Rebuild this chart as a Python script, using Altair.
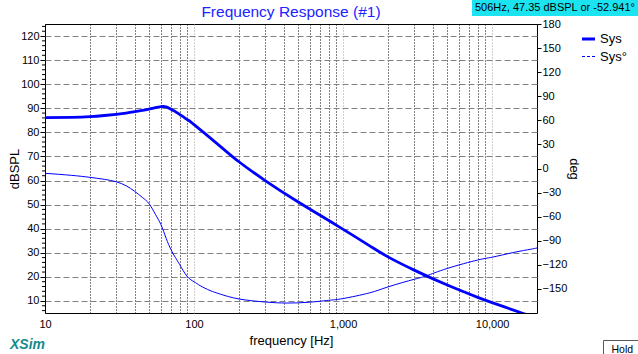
import altair as alt
import pandas as pd

# ---- data ----
mag_freq = [10, 15, 20, 25, 30, 35, 40, 45, 50, 55, 60, 65, 70, 75, 80, 90, 100, 150, 200,
            300, 500, 900, 1500, 2000, 3000, 5000, 8000, 10000, 15000, 17000]
mag_db = [86.1, 86.2, 86.5, 87.0, 87.5, 88.0, 88.6, 89.1, 89.7, 90.3, 90.7, 90.6, 89.6, 88.6,
          87.5, 85.3, 83.2, 74.2, 67.8, 60.0, 51.1, 41.5, 33.0, 28.3, 22.8, 16.6, 11.5, 9.3,
          5.5, 4.4]

ph_freq = [10, 15, 20, 25, 30, 35, 40, 45, 50, 55, 60, 65, 70, 75, 80, 90, 100, 110, 128, 150,
           200, 300, 420, 600, 820, 1000, 1500, 2000, 3000, 3650, 5000, 8000, 10000, 14000,
           18000, 20000]
ph_deg = [-6, -8.5, -11, -13.5, -16.5, -21.5, -28.5, -36, -44, -57, -70, -87, -101, -111,
          -119.5, -134.5, -141, -146, -152, -156.5, -162.5, -166.3, -167.6, -166.5, -164,
          -162, -155, -147.5, -138, -133.5, -124.5, -114, -110.5, -104.5, -100.7, -99]

db_ticks = [10, 20, 30, 40, 50, 60, 70, 80, 90, 100, 110, 120]
db_minor = [v for v in range(6, 125, 2) if v % 10 != 0]
deg_ticks = [-150, -120, -90, -60, -30, 0, 30, 60, 90, 120, 150, 180]
freq_grid = [10, 20, 30, 40, 50, 60, 70, 80, 90,
             100, 200, 300, 400, 500, 600, 700, 800, 900,
             1000, 2000, 3000, 4000, 5000, 6000, 7000, 8000, 9000, 10000]

title_text = "Frequency Response (#1)"
readout_text = "506Hz, 47.35 dBSPL or -52.941\u00b0"
legend_names = ["Sys", "Sys\u00b0"]

W, H = 492, 289
FONT = "Liberation Sans"
BLUE = "#0000ff"

mag_df = pd.DataFrame({"f": mag_freq, "db": mag_db})
ph_df = pd.DataFrame({"f": ph_freq, "deg": ph_deg})
minor_df = pd.DataFrame({"v": db_minor})

xscale = alt.Scale(type="log", domain=[10, 20000], nice=False)
yscale = alt.Scale(domain=[5, 125], nice=False, zero=False)
pscale = alt.Scale(domain=[-180, 180], nice=False, zero=False)

decade_test = "datum.value==10||datum.value==100||datum.value==1000||datum.value==10000"

x_axis = alt.Axis(
    values=freq_grid, title="frequency [Hz]", grid=True, gridDash=[1, 2],
    gridColor={"condition": {"test": "datum.value==100||datum.value==1000||datum.value==10000",
                             "value": "#a0a0a0"}, "value": "#000000"},
    gridOpacity=1, gridWidth=1, ticks=False, domain=False,
    labelExpr="(" + decade_test + ") ? format(datum.value, ',') : ''",
    labelFont=FONT, labelFontSize=11, labelColor="black", labelPadding=5,
    labelOverlap=False, labelFlush=False,
    titleFont=FONT, titleFontSize=13, titleFontWeight="normal", titleColor="black",
    titleY=27, titleBaseline="middle",
)

y_axis = alt.Axis(
    values=db_ticks, title="dBSPL", grid=True, gridDash=[6, 3], gridColor="#808080",
    gridOpacity=1, tickSize=5, tickColor="black", domain=False,
    labelFont=FONT, labelFontSize=11, labelColor="black", labelPadding=1,
    titleFont=FONT, titleFontSize=13, titleFontWeight="normal", titleColor="black",
    titleX=-31, titleY=H / 2, titleAngle=270, titleAlign="center", titleBaseline="middle",
)

p_axis = alt.Axis(
    orient="right", values=deg_ticks, title="deg", grid=False, tickSize=4,
    tickColor="black", domain=False,
    labelFont=FONT, labelFontSize=11, labelColor="black", labelPadding=1,
    titleFont=FONT, titleFontSize=13, titleFontWeight="normal", titleColor="black",
    titleX=36, titleY=H / 2, titleAngle=90, titleAlign="center", titleBaseline="middle",
)

mag_line = alt.Chart(mag_df).mark_line(color=BLUE, strokeWidth=2.8, clip=True,
                                       interpolate="natural").encode(
    x=alt.X("f:Q", scale=xscale, axis=x_axis),
    y=alt.Y("db:Q", scale=yscale, axis=y_axis),
)

minor_ticks = alt.Chart(minor_df).mark_rule(color="black", strokeWidth=1).encode(
    y=alt.Y("v:Q", scale=yscale, axis=y_axis),
    x=alt.value(-3), x2=alt.value(0),
)

left = alt.layer(mag_line, minor_ticks)

ph_line = alt.Chart(ph_df).mark_line(color=BLUE, strokeWidth=1, clip=True,
                                     interpolate="natural").encode(
    x=alt.X("f:Q", scale=xscale),
    y=alt.Y("deg:Q", scale=pscale, axis=p_axis),
)

one = pd.DataFrame({"t": [title_text]})
title_mark = alt.Chart(one).mark_text(
    font=FONT, fontSize=15.5, color="#2222ff", align="center", baseline="alphabetic"
).encode(x=alt.value(W / 2), y=alt.value(-7.3), text="t:N")

readout_bg = alt.Chart(pd.DataFrame({"t": [readout_text]})).mark_rect(
    color="#1ce3f0").encode(x=alt.value(427), x2=alt.value(600),
                            y=alt.value(-24), y2=alt.value(-8))
readout_txt = alt.Chart(pd.DataFrame({"t": [readout_text]})).mark_text(
    font=FONT, fontSize=11, color="black", align="left", baseline="alphabetic"
).encode(x=alt.value(430), y=alt.value(-13), text="t:N")

leg_df1 = pd.DataFrame({"t": [legend_names[0]]})
leg_df2 = pd.DataFrame({"t": [legend_names[1]]})
leg_line1 = alt.Chart(leg_df1).mark_rule(color=BLUE, strokeWidth=3).encode(
    x=alt.value(537), x2=alt.value(550), y=alt.value(15))
leg_line2 = alt.Chart(leg_df2).mark_rule(color=BLUE, strokeWidth=1, strokeDash=[3, 2]).encode(
    x=alt.value(537), x2=alt.value(550), y=alt.value(32.5))
leg_txt1 = alt.Chart(leg_df1).mark_text(font=FONT, fontSize=13, color="black", align="left",
                                        baseline="middle").encode(
    x=alt.value(555), y=alt.value(15), text="t:N")
leg_txt2 = alt.Chart(leg_df2).mark_text(font=FONT, fontSize=13, color="black", align="left",
                                        baseline="middle").encode(
    x=alt.value(555), y=alt.value(32.5), text="t:N")

xsim = alt.Chart(pd.DataFrame({"t": ["XSim"]})).mark_text(
    font=FONT, fontSize=14, fontStyle="italic", fontWeight="bold", color="#168c8c",
    align="left", baseline="alphabetic").encode(x=alt.value(-35), y=alt.value(325), text="t:N")

hold_box = alt.Chart(pd.DataFrame({"t": ["Hold"]})).mark_rect(
    fill="white", stroke="#5a5a5a", strokeWidth=1).encode(
    x=alt.value(558.5), x2=alt.value(600), y=alt.value(316.5), y2=alt.value(335))
hold_txt = alt.Chart(pd.DataFrame({"t": ["Hold"]})).mark_text(
    font=FONT, fontSize=10.5, color="black", align="left", baseline="alphabetic").encode(
    x=alt.value(566.5), y=alt.value(328.5), text="t:N")

chart = alt.layer(
    left, ph_line, title_mark, readout_bg, readout_txt,
    leg_line1, leg_line2, leg_txt1, leg_txt2, xsim, hold_box, hold_txt
).resolve_scale(y="independent").properties(
    width=W, height=H,
    autosize=alt.AutoSizeParams(type="none"),
    padding={"left": 45, "top": 24, "right": 101, "bottom": 41},
    background="white",
).configure_view(stroke="black", strokeWidth=1)

chart.save("out.html", embed_options={"renderer": "svg", "actions": False})
